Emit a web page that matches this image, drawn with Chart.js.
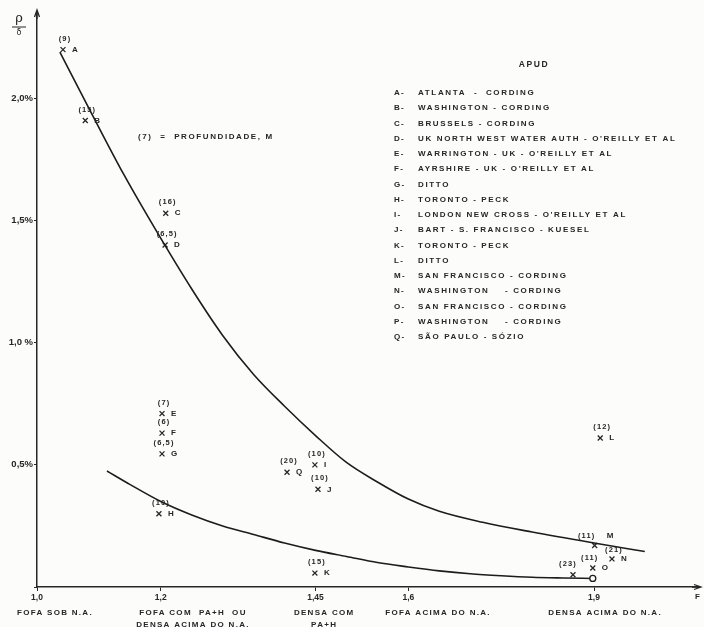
<!DOCTYPE html>
<html>
<head>
<meta charset="utf-8">
<script src="https://cdn.jsdelivr.net/npm/chart.js@4.4.0/dist/chart.umd.min.js"></script>
<style>
  html, body { margin: 0; padding: 0; background: #fcfcfb; }
  #wrap { width: 704px; height: 627px; position: relative; }
</style>
</head>
<body>
<div id="wrap"><canvas id="chart"></canvas></div>
<script>
// eixo x (F) e eixo y (rho/delta, %)
const xTicks = [1.0, 1.2, 1.45, 1.6, 1.9];
const xTickLabels = ['1,0', '1,2', '1,45', '1,6', '1,9'];
const yTickLabels = ['', '0,5%', '1,0 %', '1,5%', '2,0%'];

// casos de obra: letra, F, rho/delta (%), profundidade
const caseIds = ['A', 'B', 'C', 'D', 'E', 'F', 'G', 'H', 'I', 'J', 'K', 'L', 'M', 'N', 'O', 'P', 'Q'];
const caseX = [1.042, 1.078, 1.208, 1.207, 1.202, 1.202, 1.202, 1.197, 1.449, 1.454, 1.449, 1.910, 1.901, 1.929, 1.898, 1.866, 1.404];
const caseY = [2.20, 1.91, 1.53, 1.40, 0.71, 0.63, 0.545, 0.30, 0.50, 0.40, 0.057, 0.61, 0.17, 0.115, 0.078, 0.05, 0.47];
const caseDepth = ['(9)', '(15)', '(16)', '(6,5)', '(7)', '(6)', '(6,5)', '(10)', '(10)', '(10)', '(15)', '(12)', '(11)', '(21)', '(11)', '(23)', '(20)'];

// curva envoltoria superior e inferior
const upperX = [1.037, 1.09, 1.14, 1.19, 1.25, 1.30, 1.35, 1.40, 1.45, 1.50, 1.55, 1.60, 1.65, 1.72, 1.80, 1.90, 1.982];
const upperY = [2.19, 1.93, 1.69, 1.47, 1.22, 1.03, 0.87, 0.74, 0.62, 0.51, 0.43, 0.36, 0.31, 0.265, 0.225, 0.18, 0.145];
const lowerX = [1.113, 1.15, 1.20, 1.25, 1.30, 1.35, 1.40, 1.45, 1.50, 1.55, 1.60, 1.65, 1.70, 1.75, 1.80, 1.85, 1.898];
const lowerY = [0.475, 0.42, 0.35, 0.295, 0.25, 0.215, 0.18, 0.15, 0.125, 0.10, 0.082, 0.066, 0.054, 0.046, 0.040, 0.037, 0.035];

// legenda "APUD"
const legendRows = [
    ['A-', 'ATLANTA  -  CORDING'],
    ['B-', 'WASHINGTON - CORDING'],
    ['C-', 'BRUSSELS - CORDING'],
    ['D-', 'UK NORTH WEST WATER AUTH - O\'REILLY ET AL'],
    ['E-', 'WARRINGTON - UK - O\'REILLY ET AL'],
    ['F-', 'AYRSHIRE - UK - O\'REILLY ET AL'],
    ['G-', 'DITTO'],
    ['H-', 'TORONTO - PECK'],
    ['I-', 'LONDON NEW CROSS - O\'REILLY ET AL'],
    ['J-', 'BART - S. FRANCISCO - KUESEL'],
    ['K-', 'TORONTO - PECK'],
    ['L-', 'DITTO'],
    ['M-', 'SAN FRANCISCO - CORDING'],
    ['N-', 'WASHINGTON    - CORDING'],
    ['O-', 'SAN FRANCISCO - CORDING'],
    ['P-', 'WASHINGTON    - CORDING'],
    ['Q-', 'SÃO PAULO - SÓZIO']
];

// faixas de solo sob o eixo x (centro em F)
const soilCenters = [1.029, 1.252, 1.464, 1.648, 1.918];
const soilLabels = [
    ['FOFA SOB N.A.'],
    ['FOFA COM  PA+H  OU', 'DENSA ACIMA DO N.A.'],
    ['DENSA COM', 'PA+H'],
    ['FOFA ACIMA DO N.A.'],
    ['DENSA ACIMA DO N.A.']
];

const ink = '#262626';
const font = 'bold 8px "Liberation Sans"';

// ajustes de rotulo onde o desenho original foge do padrao
const labelNudge = {
    M: { dx: -8, dy: -10, lx: 12, ly: -10 },
    N: { dx: 2, dy: -9 },
    O: { dx: -3, dy: -10 },
    P: { dx: -5, dy: -11, hide: true }
};

function spacedText(ctx, txt, x, y, align, sp) {
    ctx.letterSpacing = (sp ?? 1.3) + 'px';
    let w = ctx.measureText(txt).width;
    let sx = align === 'center' ? x - w / 2 : x;
    ctx.textAlign = 'left';
    ctx.fillText(txt, sx, y);
    ctx.letterSpacing = '0px';
}

const annotate = {
    id: 'annotate',
    afterDatasetsDraw(chart) {
        const { ctx, scales: { x, y } } = chart;
        ctx.save();
        ctx.fillStyle = ink;
        ctx.textBaseline = 'middle';
        caseIds.forEach((id, i) => {
            const px = x.getPixelForValue(caseX[i]);
            const py = y.getPixelForValue(caseY[i]);
            const n = labelNudge[id] || {};
            ctx.font = 'bold 7.5px "Liberation Sans"';
            spacedText(ctx, caseDepth[i], px + (n.dx ?? 2), py + (n.dy ?? -11), 'center', 1.1);
            if (!n.hide) {
                ctx.font = font;
                spacedText(ctx, id, px + (n.lx ?? 9), py + (n.ly ?? 0), 'left');
            }
        });
        ctx.restore();
    },
    afterDraw(chart) {
        const { ctx, chartArea: a, scales: { x } } = chart;
        ctx.save();
        ctx.fillStyle = ink;
        ctx.strokeStyle = ink;
        ctx.lineWidth = 1.3;

        // setas dos eixos
        ctx.beginPath();
        ctx.moveTo(a.left, a.top + 6); ctx.lineTo(a.left, a.top - 3);
        ctx.moveTo(a.left - 2.5, a.top + 4); ctx.lineTo(a.left, a.top - 3); ctx.lineTo(a.left + 2.5, a.top + 4);
        ctx.moveTo(a.right - 6, a.bottom); ctx.lineTo(a.right + 3, a.bottom);
        ctx.moveTo(a.right - 4, a.bottom - 2.5); ctx.lineTo(a.right + 3, a.bottom); ctx.lineTo(a.right - 4, a.bottom + 2.5);
        ctx.stroke();

        ctx.textBaseline = 'middle';
        // titulo eixo y: rho / delta
        ctx.font = '13px "DejaVu Serif"';
        ctx.textAlign = 'center';
        ctx.fillText('ρ', 19, 19);
        ctx.beginPath(); ctx.moveTo(12, 27); ctx.lineTo(26, 27); ctx.lineWidth = 1; ctx.stroke();
        ctx.font = '8px "DejaVu Sans"';
        ctx.fillText('δ', 19, 33);

        ctx.font = font;
        spacedText(ctx, 'F', a.right, a.bottom + 10, 'center');

        // faixas de solo
        soilLabels.forEach((lines, i) => {
            const cx = x.getPixelForValue(soilCenters[i]);
            lines.forEach((t, j) => spacedText(ctx, t, cx, a.bottom + 26 + j * 12, 'center'));
        });

        // nota de profundidade
        spacedText(ctx, '(7)  =  PROFUNDIDADE, M', 138, 137, 'left', 1.6);

        // legenda
        ctx.font = 'bold 8.5px "Liberation Sans"';
        spacedText(ctx, 'APUD', 534, 65, 'center', 1.6);
        ctx.font = font;
        legendRows.forEach((r, i) => {
            const ry = 93 + i * 15.25;
            spacedText(ctx, r[0], 394, ry, 'left');
            spacedText(ctx, r[1], 418, ry, 'left', 1.65);
        });
        ctx.restore();
    }
};

const lineStyle = {
    showLine: true,
    borderColor: '#1c1c1c',
    borderWidth: 1.6,
    pointRadius: 0,
    cubicInterpolationMode: 'monotone',
    fill: false
};

new Chart(document.getElementById('chart'), {
    type: 'scatter',
    data: {
        datasets: [
            Object.assign({ data: upperX.map((v, i) => ({ x: v, y: upperY[i] })) }, lineStyle),
            Object.assign({}, lineStyle, {
                data: lowerX.map((v, i) => ({ x: v, y: lowerY[i] })),
                pointRadius: ctx => ctx.dataIndex === lowerX.length - 1 ? 3 : 0,
                pointBackgroundColor: '#fcfcfb',
                pointBorderColor: '#1c1c1c',
                pointBorderWidth: 1.3
            }),
            {
                data: caseX.map((v, i) => ({ x: v, y: caseY[i] })),
                pointStyle: 'crossRot',
                pointRadius: 3.5,
                borderColor: ink,
                borderWidth: 1.3,
                showLine: false
            }
        ]
    },
    options: {
        responsive: true,
        maintainAspectRatio: false,
        animation: false,
        layout: { padding: { top: 13, right: 6, left: 0, bottom: 0 } },
        plugins: { legend: { display: false }, tooltip: { enabled: false } },
        scales: {
            x: {
                type: 'linear',
                min: 1.0,
                max: 2.068,
                afterBuildTicks: s => { s.ticks = xTicks.map(v => ({ value: v })); },
                afterFit: s => { s.height = 40; },
                ticks: {
                    callback: (v, i) => xTickLabels[i],
                    color: ink,
                    padding: 2,
                    maxRotation: 0,
                    autoSkip: false,
                    font: { family: 'Liberation Sans', size: 8.5, weight: 'bold' }
                },
                grid: { display: true, drawOnChartArea: false, drawTicks: true, tickLength: 4, color: ink },
                border: { display: true, color: ink, width: 1.5 }
            },
            y: {
                type: 'linear',
                min: 0,
                max: 2.35,
                afterFit: s => { s.width = 37; },
                ticks: {
                    stepSize: 0.5,
                    callback: (v, i) => yTickLabels[i],
                    color: ink,
                    padding: 1,
                    font: { family: 'Liberation Sans', size: 9.5, weight: 'bold' }
                },
                grid: { display: true, drawOnChartArea: false, drawTicks: true, tickLength: 3, color: ink },
                border: { display: true, color: ink, width: 1.5 }
            }
        }
    },
    plugins: [annotate]
});
</script>
</body>
</html>
